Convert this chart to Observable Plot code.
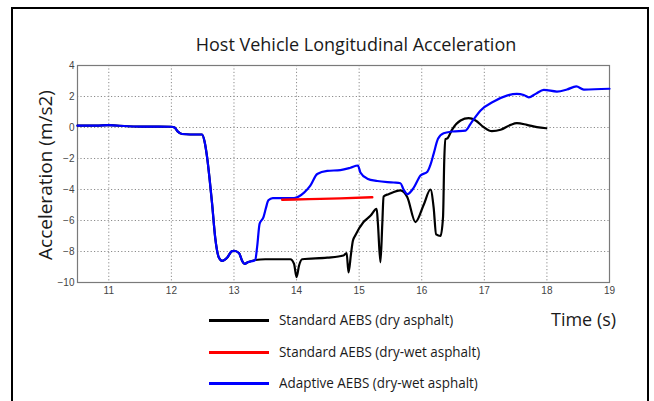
<!DOCTYPE html>
<html>
<head>
<meta charset="utf-8">
<script src="https://cdn.jsdelivr.net/npm/d3@7"></script>
<script src="https://cdn.jsdelivr.net/npm/@observablehq/plot@0.6"></script>
<style>
  html, body { margin: 0; padding: 0; background: #fff; }
  body { width: 654px; height: 401px; position: relative; overflow: hidden; font-family: "Open Sans", "Noto Sans", sans-serif; }
  #frame { position: absolute; left: 11px; top: 7px; width: 634px; height: 420px; border: 2px solid #000; }
  #chart { position: absolute; left: 0; top: 0; }
  .txt { position: absolute; white-space: nowrap; color: #1a1a1a; }
  #title { left: 0; width: 712px; top: 32px; text-align: center; font-size: 18px; }
  #ylab { left: 45px; top: 175px; font-size: 19px; transform: translate(-50%, -50%) rotate(-90deg); }
  #xlab { left: 551px; top: 307px; font-size: 18px; }
  .leg { position: absolute; left: 209px; height: 0; width: 60px; border-top: 3px solid; }
  .legt { position: absolute; left: 279px; font-size: 14px; color: #1a1a1a; white-space: nowrap; transform: scaleX(0.96); transform-origin: 0 0; }
</style>
</head>
<body>
<div id="frame"></div>
<div id="chart"></div>
<div id="title" class="txt">Host Vehicle Longitudinal Acceleration</div>
<div id="ylab" class="txt">Acceleration (m/s2)</div>
<div id="xlab" class="txt">Time (s)</div>
<div id="legend"></div>
<script>
// ---- data ----
const xTicks = [11, 12, 13, 14, 15, 16, 17, 18, 19];
const yTicks = [-10, -8, -6, -4, -2, 0, 2, 4];

const seriesNames = ["Standard AEBS (dry asphalt)", "Standard AEBS (dry-wet asphalt)", "Adaptive AEBS (dry-wet asphalt)"];
const seriesColors = ["#000000", "#ff0000", "#0000ff"];

// Standard AEBS (dry asphalt) — time (s)
const blackT = [10.5, 10.8, 11.0, 11.3, 11.6, 12.0, 12.05, 12.1, 12.17, 12.3, 12.49, 12.53, 12.57, 12.61, 12.65, 12.70, 12.76, 12.81, 12.89, 12.96, 13.0, 13.08, 13.13, 13.17, 13.22, 13.34,
  13.5, 13.9, 13.96, 14.0, 14.04, 14.09, 14.49, 14.75, 14.80, 14.83, 14.87, 14.90, 14.94, 15.07, 15.18, 15.28, 15.30, 15.34, 15.37, 15.39, 15.47, 15.66, 15.77, 15.90, 16.03, 16.14, 16.19, 16.23, 16.30, 16.34, 16.36, 16.38, 16.41, 16.49, 16.62, 16.75, 16.86, 16.99, 17.12, 17.26, 17.42, 17.52, 17.68, 17.84, 17.99];
// acceleration (m/s2)
const blackA = [0.12, 0.12, 0.15, 0.08, 0.06, 0.05, 0.0, -0.25, -0.42, -0.45, -0.45, -0.9, -1.9, -3.3, -4.9, -7.1, -8.4, -8.6, -8.4, -8.0, -7.95, -8.1, -8.6, -8.8, -8.7, -8.55,
  -8.5, -8.5, -8.8, -9.65, -8.9, -8.5, -8.4, -8.26, -8.1, -9.35, -8.15, -7.3, -6.95, -6.1, -5.7, -5.25, -6.2, -8.7, -6.2, -4.45, -4.3, -4.05, -4.5, -6.1, -5.0, -4.0, -5.15, -6.9, -7.0, -5.8, -2.1, -0.75, -0.7, -0.1, 0.45, 0.6, 0.45, 0.02, -0.24, -0.15, 0.17, 0.28, 0.17, 0.02, -0.05];

// Standard AEBS (dry-wet asphalt)
const redT = [13.77, 14.2, 14.7, 15.21];
const redA = [-4.66, -4.62, -4.57, -4.5];

// Adaptive AEBS (dry-wet asphalt)
const blueT = [10.5, 10.8, 11.0, 11.3, 11.6, 12.0, 12.05, 12.1, 12.17, 12.3, 12.49, 12.53, 12.57, 12.61, 12.65, 12.70, 12.76, 12.81, 12.89, 12.96, 13.0, 13.08, 13.13, 13.17, 13.22, 13.34,
  13.37, 13.41, 13.47, 13.51, 13.55, 13.62, 13.96, 14.12, 14.22, 14.33, 14.49, 14.70, 14.86, 14.98, 15.02, 15.13, 15.29, 15.55, 15.66, 15.71, 15.77, 15.87, 15.98, 16.09, 16.14, 16.19, 16.26, 16.35, 16.49, 16.70, 16.78, 16.94, 17.15, 17.36, 17.52, 17.63, 17.71, 17.82, 17.95, 18.16, 18.32, 18.47, 18.59, 19.0];
const blueA = [0.12, 0.12, 0.15, 0.08, 0.06, 0.05, 0.0, -0.25, -0.42, -0.45, -0.45, -0.9, -1.9, -3.3, -4.9, -7.1, -8.4, -8.6, -8.4, -8.0, -7.95, -8.1, -8.6, -8.8, -8.7, -8.55,
  -7.7, -6.2, -5.8, -5.2, -4.7, -4.55, -4.55, -4.2, -3.75, -3.0, -2.8, -2.75, -2.6, -2.45, -2.9, -3.3, -3.45, -3.55, -3.6, -4.0, -4.3, -3.9, -3.1, -2.85, -2.4, -1.7, -0.73, -0.37, -0.26, -0.2, 0.24, 1.1, 1.68, 2.06, 2.17, 2.1, 1.95, 2.17, 2.43, 2.32, 2.45, 2.65, 2.45, 2.5];

// ---- build tables ----
const black = blackT.map((t, i) => ({t, a: blackA[i]}));
const red = redT.map((t, i) => ({t, a: redA[i]}));
const blue = blueT.map((t, i) => ({t, a: blueA[i]}));

const tickFont = "'Liberation Sans Narrow', 'Arial Narrow', sans-serif";

const chart = Plot.plot({
  width: 654,
  height: 300,
  marginTop: 65,
  marginLeft: 77,
  marginRight: 45,
  marginBottom: 18,
  style: {background: "transparent", overflow: "visible"},
  x: {domain: [10.5, 19]},
  y: {domain: [-10, 4]},
  marks: [
    Plot.gridX(xTicks, {stroke: "#8c8c8c", strokeOpacity: 1, strokeDasharray: "1.2,2.2"}),
    Plot.gridY(yTicks, {stroke: "#8c8c8c", strokeOpacity: 1, strokeDasharray: "1.2,2.2"}),
    Plot.frame({stroke: "#7a7a7a", strokeWidth: 1.2}),
    Plot.axisX(xTicks, {tickSize: 0, tickPadding: 4, fontSize: 10, fontFamily: tickFont, fill: "#444", label: null}),
    Plot.axisY(yTicks, {tickSize: 0, tickPadding: 3, fontSize: 10, fontFamily: tickFont, fill: "#444", label: null}),
    Plot.line(black, {x: "t", y: "a", stroke: seriesColors[0], strokeWidth: 2.2, curve: "monotone-x"}),
    Plot.line(blue, {x: "t", y: "a", stroke: seriesColors[2], strokeWidth: 2.2, curve: "monotone-x"}),
    Plot.line(red, {x: "t", y: "a", stroke: seriesColors[1], strokeWidth: 2.4, curve: "monotone-x"})
  ]
});
document.getElementById("chart").appendChild(chart);

// legend
const legend = document.getElementById("legend");
const rowsY = [320, 352, 383];
seriesNames.forEach((name, i) => {
  const l = document.createElement("div");
  l.className = "leg";
  l.style.top = (rowsY[i] - 1.5) + "px";
  l.style.borderTopColor = seriesColors[i];
  legend.appendChild(l);
  const t = document.createElement("div");
  t.className = "legt";
  t.textContent = name;
  t.style.top = (rowsY[i] - 10.5) + "px";
  legend.appendChild(t);
});
</script>
</body>
</html>
